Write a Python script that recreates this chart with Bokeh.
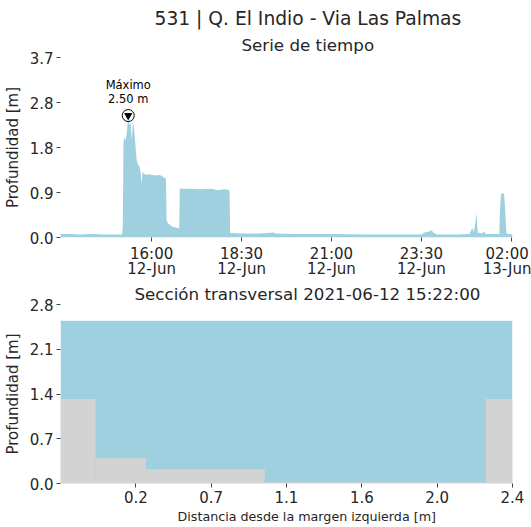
import pandas as pd
from bokeh.plotting import figure
from bokeh.layouts import column
from bokeh.models import Title, FixedTicker, Range1d, ColumnDataSource
from bokeh.core.properties import value
from bokeh.embed import file_html
from bokeh.resources import INLINE

NAN = float("nan")

main_title = "531 | Q. El Indio - Via Las Palmas"
ts_title = "Serie de tiempo"
xs_title = "Sección transversal 2021-06-12 15:22:00"
y_label = "Profundidad [m]"
x_label = "Distancia desde la margen izquierda [m]"

times = [
    "2021-06-12 13:28", "2021-06-12 13:45", "2021-06-12 14:00", "2021-06-12 14:20",
    "2021-06-12 14:40", "2021-06-12 15:00", "2021-06-12 15:11", "2021-06-12 15:12",
    "2021-06-12 15:13", "2021-06-12 15:15", "2021-06-12 15:17", "2021-06-12 15:19",
    "2021-06-12 15:21", "2021-06-12 15:22", "2021-06-12 15:23", "2021-06-12 15:25",
    "2021-06-12 15:27", "2021-06-12 15:28", "2021-06-12 15:29", "2021-06-12 15:31",
    "2021-06-12 15:33", "2021-06-12 15:35", "2021-06-12 15:36", "2021-06-12 15:37",
    "2021-06-12 15:40", "2021-06-12 15:42", "2021-06-12 15:43", "2021-06-12 15:44",
    "2021-06-12 15:45", "2021-06-12 15:48", "2021-06-12 15:52", "2021-06-12 15:56",
    "2021-06-12 15:58", "2021-06-12 15:59", "2021-06-12 16:03", "2021-06-12 16:07",
    "2021-06-12 16:08", "2021-06-12 16:14", "2021-06-12 16:18", "2021-06-12 16:22",
    "2021-06-12 16:24", "2021-06-12 16:25", "2021-06-12 16:28", "2021-06-12 16:35",
    "2021-06-12 16:42", "2021-06-12 16:46", "2021-06-12 16:47", "2021-06-12 17:00",
    "2021-06-12 17:20", "2021-06-12 17:40", "2021-06-12 17:50", "2021-06-12 18:00",
    "2021-06-12 18:08", "2021-06-12 18:10", "2021-06-12 18:11", "2021-06-12 18:30",
    "2021-06-12 19:00", "2021-06-12 19:25", "2021-06-12 19:26", "2021-06-12 20:00",
    "2021-06-12 21:00", "2021-06-12 22:00", "2021-06-12 23:00", "2021-06-12 23:30",
    "2021-06-12 23:35", "2021-06-12 23:42", "2021-06-12 23:47", "2021-06-12 23:50",
    "2021-06-12 23:55", "2021-06-13 00:30", "2021-06-13 00:50", "2021-06-13 00:55",
    "2021-06-13 00:57", "2021-06-13 01:00", "2021-06-13 01:02", "2021-06-13 01:04",
    "2021-06-13 01:10", "2021-06-13 01:15", "2021-06-13 01:17", "2021-06-13 01:40",
    "2021-06-13 01:41", "2021-06-13 01:43", "2021-06-13 01:48", "2021-06-13 01:50",
    "2021-06-13 01:52", "2021-06-13 02:02",
]
depths = [
    0.07, 0.07, 0.06, 0.07,
    0.06, 0.06, 0.06, 0.30,
    1.95, 2.05, 2.00, 2.20,
    2.50, NAN, 2.30, 2.35,
    2.00, NAN, 2.40, 2.20,
    1.90, 1.60, NAN, 1.50,
    1.45, 1.30, 1.10, NAN,
    1.35, 1.30, 1.28, 1.30,
    NAN, 1.28, 1.28, NAN,
    1.27, 1.28, 1.25, 1.22,
    1.20, 0.35, 0.28, 0.22,
    0.20, 0.18, 1.00, 1.00,
    0.99, 1.00, 0.97, 0.99,
    0.98, 0.95, 0.09, 0.08,
    0.08, 0.10, 0.08, 0.07,
    0.07, 0.06, 0.06, 0.06,
    0.10, 0.12, 0.15, 0.10,
    0.06, 0.06, 0.07, 0.20,
    0.10, 0.30, 0.50, 0.10,
    0.08, 0.12, 0.07, 0.07,
    0.55, 0.90, 0.90, 0.50,
    0.08, 0.06,
]
max_time = "2021-06-12 15:21"
max_depth = 2.50
max_text = "Máximo\n2.50 m"

ts_yticks = [0.0, 0.9225, 1.845, 2.7675, 3.69]
ts_ylabels = ["0.0", "0.9", "1.8", "2.8", "3.7"]
ts_xticks = ["2021-06-12 16:00", "2021-06-12 18:30", "2021-06-12 21:00",
             "2021-06-12 23:30", "2021-06-13 02:00"]
ts_xlabels = ["16:00\n12-Jun", "18:30\n12-Jun", "21:00\n12-Jun",
              "23:30\n12-Jun", "02:00\n13-Jun"]

ground_left = [-0.25, -0.04, 0.26, 0.97, 2.29]
ground_right = [-0.04, 0.26, 0.97, 2.29, 2.45]
ground_z = [1.30, 0.39, 0.22, 0.02, 1.30]
water_level = 2.50
xs_xmin, xs_xmax = -0.25, 2.45
xs_yticks = [0.0, 0.6875, 1.375, 2.0625, 2.75]
xs_ylabels = ["0.0", "0.7", "1.4", "2.1", "2.8"]
xs_xticks = [0.2, 0.65, 1.1, 1.55, 2.0, 2.45]
xs_xlabels = ["0.2", "0.7", "1.1", "1.6", "2.0", "2.4"]

WATER = "#9ed0e0"
GROUND = "#d3d3d3"
TXT = "#262626"
FONT = "DejaVu Sans"


def ms(s):
    return int(pd.Timestamp(s).value // 10**6)


def style(p):
    p.outline_line_color = None
    p.xgrid.grid_line_color = None
    p.ygrid.grid_line_color = None
    for ax in (p.xaxis[0], p.yaxis[0]):
        ax.axis_line_color = None
        ax.major_tick_in = 0
        ax.major_tick_out = 4
        ax.major_tick_line_color = "#444444"
        ax.minor_tick_line_color = None
        ax.major_label_text_font = FONT
        ax.major_label_text_font_size = "15px"
        ax.major_label_text_color = TXT
        ax.major_label_standoff = 3
        ax.axis_label_text_font = FONT
        ax.axis_label_text_font_style = "normal"
        ax.axis_label_text_color = TXT
    p.yaxis[0].axis_label = y_label
    p.yaxis[0].axis_label_text_font_size = "15px"
    p.yaxis[0].axis_label_standoff = 5


def title(text, size, offset, standoff):
    return Title(text=text, align="left", offset=offset, standoff=standoff,
                 text_font=FONT, text_font_size=size, text_font_style="normal",
                 text_color=TXT)


# ---------- time series ----------
t_ms = [ms(t) for t in times]
p1 = figure(width=531, height=280, x_axis_type="datetime", title=None,
            output_backend="svg", toolbar_location=None,
            x_range=Range1d(t_ms[0], t_ms[-1]), y_range=Range1d(0, ts_yticks[-1]),
            min_border_left=59, min_border_right=19, min_border_top=57,
            min_border_bottom=42)
style(p1)
p1.xaxis[0].major_label_text_line_height = 0.85
src = ColumnDataSource(dict(t=t_ms, d=depths))
p1.varea(x="t", y1=0, y2="d", source=src, fill_color=WATER)
p1.scatter([ms(max_time)], [max_depth], marker="circle", size=12,
           fill_color=None, line_color="black", line_width=1)
p1.scatter([ms(max_time)], [max_depth], marker="inverted_triangle", size=7,
           fill_color="black", line_color="black")
p1.text([ms(max_time)], [max_depth], text=[max_text], text_align="center",
        text_baseline="bottom", y_offset=-10, text_font=value(FONT),
        text_font_size="11.5px", text_color="black", text_line_height=1.0)
p1.yaxis[0].ticker = FixedTicker(ticks=ts_yticks)
p1.yaxis[0].major_label_overrides = dict(zip(ts_yticks, ts_ylabels))
xt = [ms(t) for t in ts_xticks]
p1.xaxis[0].ticker = FixedTicker(ticks=xt)
p1.xaxis[0].major_label_overrides = dict(zip(xt, ts_xlabels))
p1.add_layout(title(ts_title, "16.7px", 181, 5), "above")
p1.add_layout(title(main_title, "18.7px", 94, 4), "above")

# ---------- cross section ----------
p2 = figure(width=531, height=247, title=None, output_backend="svg",
            toolbar_location=None, x_range=Range1d(xs_xmin, xs_xmax),
            y_range=Range1d(0, xs_yticks[-1]),
            min_border_left=59, min_border_right=19, min_border_top=23,
            min_border_bottom=44)
style(p2)
p2.quad(left=[xs_xmin], right=[xs_xmax], bottom=[0], top=[water_level],
        fill_color=WATER, line_color=None)
p2.quad(left=ground_left, right=ground_right, bottom=0, top=ground_z,
        fill_color=GROUND, line_color=None)
p2.yaxis[0].ticker = FixedTicker(ticks=xs_yticks)
p2.yaxis[0].major_label_overrides = dict(zip(xs_yticks, xs_ylabels))
p2.xaxis[0].ticker = FixedTicker(ticks=xs_xticks)
p2.xaxis[0].major_label_overrides = dict(zip(xs_xticks, xs_xlabels))
p2.add_layout(title(xs_title, "16.7px", 74, 2), "above")
p2.add_layout(title(x_label, "12.7px", 117, 3), "below")

layout = column(p1, p2)
open("out.html", "w").write(file_html(layout, INLINE))
